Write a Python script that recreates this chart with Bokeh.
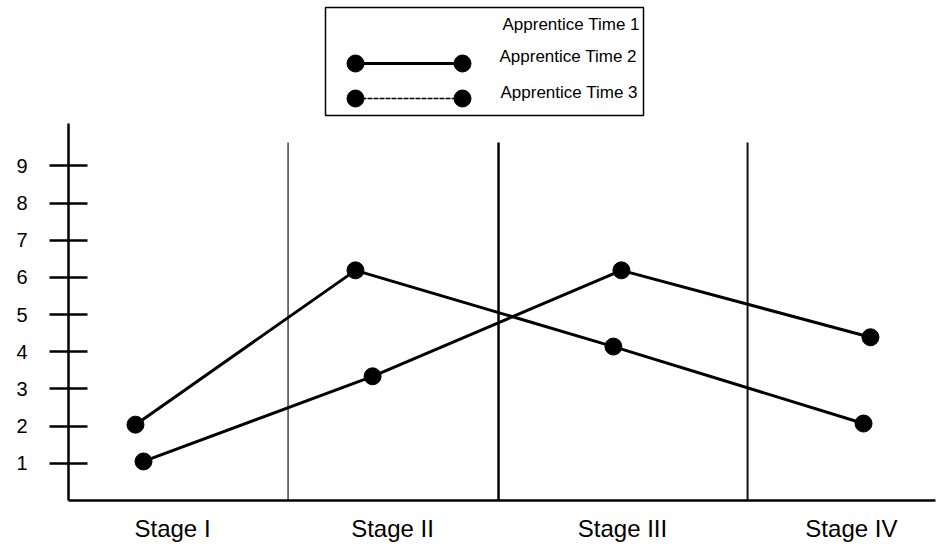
from bokeh.plotting import figure
from bokeh.layouts import column
from bokeh.models import Range1d, FixedTicker
from bokeh.core.properties import value
from bokeh.embed import file_html
from bokeh.resources import INLINE

# ---------------- data ----------------
stage_labels = ["Stage I", "Stage II", "Stage III", "Stage IV"]
stage_label_x = [0.48, 1.495, 2.556, 3.612]
divider_x = [1.013, 1.984, 3.133]
divider_top = 9.63

time2_x = [0.309, 1.324, 2.514, 3.668]
time2_y = [2.04, 6.19, 4.14, 2.07]
time3_x = [0.346, 1.403, 2.551, 3.700]
time3_y = [1.05, 3.34, 6.19, 4.39]

y_ticks = [1, 2, 3, 4, 5, 6, 7, 8, 9]
legend_labels = ["Apprentice Time 1", "Apprentice Time 2", "Apprentice Time 3"]

FONT = "Liberation Sans"
W = 943
LEFT, RIGHT = 68, 8

# ---------------- legend panel ----------------
lg = figure(width=W, height=121, x_range=Range1d(LEFT, W - RIGHT), y_range=Range1d(121, 0),
            x_axis_location=None, y_axis_location=None,
            min_border=0, min_border_left=LEFT, min_border_right=RIGHT,
            min_border_top=0, min_border_bottom=0,
            output_backend="svg", toolbar_location=None)
lg.grid.visible = False
lg.outline_line_color = None
lg.background_fill_color = "white"

lg.quad(left=[325], right=[643], top=[7], bottom=[115],
        fill_color=None, line_color="black", line_width=1.5)

lg.text(x=[502, 499, 500], y=[24, 56, 92], text=legend_labels,
        text_font=value(FONT), text_font_size="17px", text_color="black",
        text_baseline="middle", text_align="left")

# Time 2 glyph
lg.line(x=[355, 462], y=[63, 63], line_color="black", line_width=3)
lg.scatter(x=[355, 462], y=[63, 63], size=17, marker="circle",
           fill_color="black", line_color="black")
# Time 3 glyph
lg.line(x=[355, 462], y=[98, 98], line_color="black", line_width=1.5, line_dash="5 1")
lg.scatter(x=[355, 462], y=[98, 98], size=17, marker="circle",
           fill_color="black", line_color="black")

# ---------------- main chart ----------------
p = figure(width=W, height=427, x_range=Range1d(0, 4), y_range=Range1d(0, 10.14),
           min_border_left=LEFT, min_border_right=RIGHT, min_border_top=2, min_border_bottom=48,
           output_backend="svg", toolbar_location=None)
p.grid.visible = False
p.outline_line_color = None

# stage dividers
p.segment(x0=[divider_x[0]], y0=[0], x1=[divider_x[0]], y1=[divider_top],
          line_color="#444444", line_width=1.5)
p.segment(x0=[divider_x[1]], y0=[0], x1=[divider_x[1]], y1=[divider_top],
          line_color="black", line_width=2.5)
p.segment(x0=[divider_x[2]], y0=[0], x1=[divider_x[2]], y1=[divider_top],
          line_color="#111111", line_width=2)

# series
p.line(time2_x, time2_y, line_color="black", line_width=3)
p.scatter(time2_x, time2_y, size=17, marker="circle", fill_color="black", line_color="black")
p.line(time3_x, time3_y, line_color="black", line_width=3)
p.scatter(time3_x, time3_y, size=17, marker="circle", fill_color="black", line_color="black")

# x axis
xa = p.xaxis[0]
xa.ticker = FixedTicker(ticks=stage_label_x)
xa.major_label_overrides = {x: lab for x, lab in zip(stage_label_x, stage_labels)}
xa.major_tick_in = 0
xa.major_tick_out = 0
xa.minor_tick_line_color = None
xa.axis_line_width = 2.5
xa.axis_line_color = "black"
xa.major_label_text_font = FONT
xa.major_label_text_font_size = "24px"
xa.major_label_text_color = "black"
xa.major_label_standoff = 14

# y axis
ya = p.yaxis[0]
ya.ticker = FixedTicker(ticks=y_ticks)
ya.major_tick_in = 19
ya.major_tick_out = 19
ya.major_tick_line_width = 2.5
ya.major_tick_line_color = "black"
ya.minor_tick_line_color = None
ya.axis_line_width = 2.5
ya.axis_line_color = "black"
ya.major_label_text_font = FONT
ya.major_label_text_font_size = "20px"
ya.major_label_text_color = "black"
ya.major_label_standoff = 22

layout = column(lg, p)
open("out.html", "w").write(file_html(layout, INLINE))
